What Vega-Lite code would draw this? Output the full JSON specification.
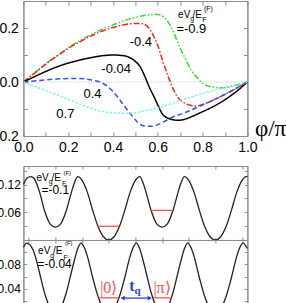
{
  "$schema": "https://vega.github.io/schema/vega-lite/v6.json",
  "autosize": {"type": "pad"},
  "padding": {"left": -10.6, "top": 0, "right": 0, "bottom": 0},
  "spacing": 30,
  "bounds": "flush",
  "config": {
    "view": {"stroke": "#8c8c8c", "strokeWidth": 1},
    "axis": {"grid": false, "domainColor": "#8c8c8c", "tickColor": "#8c8c8c", "labelFont": "Liberation Sans", "labelColor": "#000", "titleFont": "Liberation Serif", "labelFlush": false},
    "text": {"font": "Liberation Sans", "color": "#000"}
  },
  "datasets": {
    "topCurves": [
      {"s":"-0.9","p":0,"v":0},{"s":"-0.9","p":0.05,"v":0.034},{"s":"-0.9","p":0.1,"v":0.068},{"s":"-0.9","p":0.15,"v":0.098},{"s":"-0.9","p":0.2,"v":0.127},{"s":"-0.9","p":0.25,"v":0.152},{"s":"-0.9","p":0.3,"v":0.175},{"s":"-0.9","p":0.35,"v":0.195},{"s":"-0.9","p":0.4,"v":0.211},{"s":"-0.9","p":0.45,"v":0.227},{"s":"-0.9","p":0.5,"v":0.239},{"s":"-0.9","p":0.55,"v":0.248},{"s":"-0.9","p":0.6,"v":0.25},{"s":"-0.9","p":0.63,"v":0.238},{"s":"-0.9","p":0.66,"v":0.203},{"s":"-0.9","p":0.7,"v":0.125},{"s":"-0.9","p":0.73,"v":0.075},{"s":"-0.9","p":0.75,"v":0.043},{"s":"-0.9","p":0.78,"v":0.012},{"s":"-0.9","p":0.8,"v":-0.005},{"s":"-0.9","p":0.84,"v":-0.018},{"s":"-0.9","p":0.88,"v":-0.021},{"s":"-0.9","p":0.92,"v":-0.018},{"s":"-0.9","p":0.96,"v":-0.01},{"s":"-0.9","p":1,"v":0},
      {"s":"-0.4","p":0,"v":0},{"s":"-0.4","p":0.05,"v":0.033},{"s":"-0.4","p":0.1,"v":0.066},{"s":"-0.4","p":0.15,"v":0.096},{"s":"-0.4","p":0.2,"v":0.124},{"s":"-0.4","p":0.25,"v":0.148},{"s":"-0.4","p":0.3,"v":0.17},{"s":"-0.4","p":0.35,"v":0.188},{"s":"-0.4","p":0.4,"v":0.202},{"s":"-0.4","p":0.45,"v":0.212},{"s":"-0.4","p":0.5,"v":0.217},{"s":"-0.4","p":0.53,"v":0.216},{"s":"-0.4","p":0.56,"v":0.2},{"s":"-0.4","p":0.585,"v":0.164},{"s":"-0.4","p":0.6,"v":0.135},{"s":"-0.4","p":0.622,"v":0.078},{"s":"-0.4","p":0.64,"v":0.035},{"s":"-0.4","p":0.66,"v":-0.009},{"s":"-0.4","p":0.69,"v":-0.058},{"s":"-0.4","p":0.72,"v":-0.078},{"s":"-0.4","p":0.75,"v":-0.087},{"s":"-0.4","p":0.77,"v":-0.089},{"s":"-0.4","p":0.8,"v":-0.083},{"s":"-0.4","p":0.84,"v":-0.07},{"s":"-0.4","p":0.88,"v":-0.054},{"s":"-0.4","p":0.92,"v":-0.037},{"s":"-0.4","p":0.96,"v":-0.019},{"s":"-0.4","p":1,"v":0},
      {"s":"-0.04","p":0,"v":0},{"s":"-0.04","p":0.05,"v":0.02},{"s":"-0.04","p":0.1,"v":0.039},{"s":"-0.04","p":0.15,"v":0.056},{"s":"-0.04","p":0.2,"v":0.07},{"s":"-0.04","p":0.25,"v":0.081},{"s":"-0.04","p":0.3,"v":0.09},{"s":"-0.04","p":0.35,"v":0.097},{"s":"-0.04","p":0.4,"v":0.1},{"s":"-0.04","p":0.45,"v":0.097},{"s":"-0.04","p":0.48,"v":0.088},{"s":"-0.04","p":0.5,"v":0.076},{"s":"-0.04","p":0.52,"v":0.058},{"s":"-0.04","p":0.54,"v":0.025},{"s":"-0.04","p":0.56,"v":-0.015},{"s":"-0.04","p":0.585,"v":-0.058},{"s":"-0.04","p":0.6,"v":-0.085},{"s":"-0.04","p":0.622,"v":-0.12},{"s":"-0.04","p":0.64,"v":-0.132},{"s":"-0.04","p":0.66,"v":-0.138},{"s":"-0.04","p":0.69,"v":-0.142},{"s":"-0.04","p":0.72,"v":-0.138},{"s":"-0.04","p":0.76,"v":-0.125},{"s":"-0.04","p":0.8,"v":-0.11},{"s":"-0.04","p":0.84,"v":-0.094},{"s":"-0.04","p":0.88,"v":-0.076},{"s":"-0.04","p":0.92,"v":-0.054},{"s":"-0.04","p":0.96,"v":-0.029},{"s":"-0.04","p":1,"v":0},
      {"s":"0.4","p":0,"v":0},{"s":"0.4","p":0.05,"v":0.004},{"s":"0.4","p":0.1,"v":0.008},{"s":"0.4","p":0.15,"v":0.011},{"s":"0.4","p":0.2,"v":0.013},{"s":"0.4","p":0.25,"v":0.013},{"s":"0.4","p":0.3,"v":0.008},{"s":"0.4","p":0.35,"v":-0.003},{"s":"0.4","p":0.4,"v":-0.035},{"s":"0.4","p":0.423,"v":-0.058},{"s":"0.4","p":0.45,"v":-0.088},{"s":"0.4","p":0.467,"v":-0.107},{"s":"0.4","p":0.49,"v":-0.13},{"s":"0.4","p":0.512,"v":-0.151},{"s":"0.4","p":0.54,"v":-0.163},{"s":"0.4","p":0.57,"v":-0.164},{"s":"0.4","p":0.6,"v":-0.158},{"s":"0.4","p":0.63,"v":-0.146},{"s":"0.4","p":0.66,"v":-0.132},{"s":"0.4","p":0.7,"v":-0.12},{"s":"0.4","p":0.72,"v":-0.114},{"s":"0.4","p":0.76,"v":-0.1},{"s":"0.4","p":0.8,"v":-0.085},{"s":"0.4","p":0.84,"v":-0.07},{"s":"0.4","p":0.88,"v":-0.054},{"s":"0.4","p":0.92,"v":-0.037},{"s":"0.4","p":0.96,"v":-0.019},{"s":"0.4","p":1,"v":0},
      {"s":"0.7","p":0,"v":0},{"s":"0.7","p":0.05,"v":-0.016},{"s":"0.7","p":0.1,"v":-0.032},{"s":"0.7","p":0.15,"v":-0.048},{"s":"0.7","p":0.2,"v":-0.064},{"s":"0.7","p":0.25,"v":-0.081},{"s":"0.7","p":0.3,"v":-0.097},{"s":"0.7","p":0.35,"v":-0.108},{"s":"0.7","p":0.4,"v":-0.114},{"s":"0.7","p":0.45,"v":-0.116},{"s":"0.7","p":0.5,"v":-0.114},{"s":"0.7","p":0.54,"v":-0.107},{"s":"0.7","p":0.6,"v":-0.097},{"s":"0.7","p":0.65,"v":-0.083},{"s":"0.7","p":0.7,"v":-0.068},{"s":"0.7","p":0.76,"v":-0.053},{"s":"0.7","p":0.84,"v":-0.033},{"s":"0.7","p":0.92,"v":-0.016},{"s":"0.7","p":1,"v":0}
    ],
    "zero": [{"p":0,"v":0},{"p":1,"v":0}],
    "topMain": [{"p":0.6906,"v":0.2381,"t":"eV"},{"p":0.7545,"v":0.2381,"t":"/E"}],
    "topSub": [{"p":0.745,"v":0.226,"t":"g"},{"p":0.799,"v":0.224,"t":"F"}],
    "topSup": [{"p":0.806,"v":0.2648,"t":"(F)"}],
    "topBig": [{"p":0.683,"v":0.1826,"t":"=-0.9"},{"p":0.4746,"v":0.1333,"t":"-0.4"},{"p":0.348,"v":0.0344,"t":"-0.04"},{"p":0.268,"v":-0.058,"t":"0.4"},{"p":0.147,"v":-0.132,"t":"0.7"}],
    "midCurve": [
      {"u":-1.6,"v":0.12},{"u":-1.53,"v":0.134},{"u":-1.46,"v":0.137},{"u":-1.4,"v":0.133},{"u":-1.3,"v":0.105},{"u":-1.2,"v":0.062},{"u":-1.1,"v":0.035},{"u":-1.0,"v":0.028},{"u":-0.9,"v":0.035},{"u":-0.8,"v":0.062},{"u":-0.7,"v":0.103},{"u":-0.64,"v":0.125},{"u":-0.58,"v":0.137},{"u":-0.5,"v":0.129},{"u":-0.4,"v":0.103},{"u":-0.3,"v":0.064},{"u":-0.2,"v":0.029},{"u":-0.1,"v":0.007},{"u":0,"v":0},{"u":0.1,"v":0.007},{"u":0.2,"v":0.029},{"u":0.3,"v":0.064},{"u":0.4,"v":0.103},{"u":0.5,"v":0.129},{"u":0.58,"v":0.137},{"u":0.64,"v":0.125},{"u":0.7,"v":0.103},{"u":0.8,"v":0.062},{"u":0.9,"v":0.035},{"u":1.0,"v":0.028},{"u":1.1,"v":0.035},{"u":1.2,"v":0.062},{"u":1.3,"v":0.103},{"u":1.36,"v":0.125},{"u":1.42,"v":0.137},{"u":1.5,"v":0.129},{"u":1.6,"v":0.103},{"u":1.7,"v":0.064},{"u":1.8,"v":0.029},{"u":1.9,"v":0.007},{"u":2.0,"v":0},{"u":2.1,"v":0.007},{"u":2.2,"v":0.029},{"u":2.3,"v":0.064},{"u":2.4,"v":0.103},{"u":2.5,"v":0.129},{"u":2.58,"v":0.137},{"u":2.6,"v":0.137}
    ],
    "midLevels": [{"g":"a","u":-0.21,"v":0.0296},{"g":"a","u":0.2,"v":0.0296},{"g":"b","u":0.79,"v":0.064},{"g":"b","u":1.2,"v":0.064}],
    "midMain": [{"u":-1.356,"v":0.1276,"t":"eV"},{"u":-1.074,"v":0.1276,"t":"/E"}],
    "midSub": [{"u":-1.127,"v":0.12,"t":"g"},{"u":-0.8775,"v":0.1168,"t":"F"}],
    "midSup": [{"u":-0.849,"v":0.1405,"t":"(F)"}],
    "midBig": [{"u":-1.262,"v":0.0995,"t":"=-0.1"}],
    "botCurve": [
      {"u":-1.6,"v":0.108},{"u":-1.54,"v":0.115},{"u":-1.48,"v":0.112},{"u":-1.42,"v":0.104},{"u":-1.36,"v":0.088},{"u":-1.3,"v":0.067},{"u":-1.2,"v":0.032},{"u":-1.1,"v":0.009},{"u":-1.0,"v":0.002},{"u":-0.9,"v":0.009},{"u":-0.8,"v":0.032},{"u":-0.7,"v":0.067},{"u":-0.64,"v":0.088},{"u":-0.58,"v":0.106},{"u":-0.52,"v":0.115},{"u":-0.46,"v":0.108},{"u":-0.4,"v":0.093},{"u":-0.3,"v":0.058},{"u":-0.2,"v":0.027},{"u":-0.1,"v":0.007},{"u":0,"v":0},{"u":0.1,"v":0.007},{"u":0.2,"v":0.027},{"u":0.3,"v":0.058},{"u":0.4,"v":0.093},{"u":0.46,"v":0.108},{"u":0.52,"v":0.115},{"u":0.58,"v":0.106},{"u":0.64,"v":0.088},{"u":0.7,"v":0.067},{"u":0.8,"v":0.032},{"u":0.9,"v":0.009},{"u":1.0,"v":0.002},{"u":1.1,"v":0.009},{"u":1.2,"v":0.032},{"u":1.3,"v":0.067},{"u":1.36,"v":0.088},{"u":1.42,"v":0.106},{"u":1.48,"v":0.115},{"u":1.54,"v":0.108},{"u":1.6,"v":0.093},{"u":1.7,"v":0.058},{"u":1.8,"v":0.027},{"u":1.9,"v":0.007},{"u":2.0,"v":0},{"u":2.1,"v":0.007},{"u":2.2,"v":0.027},{"u":2.3,"v":0.058},{"u":2.4,"v":0.093},{"u":2.46,"v":0.108},{"u":2.52,"v":0.115},{"u":2.6,"v":0.106}
    ],
    "botLevels": [{"g":"a","u":-0.2,"v":0.025},{"g":"a","u":0.18,"v":0.025},{"g":"b","u":0.83,"v":0.025},{"g":"b","u":1.18,"v":0.025}],
    "botArrow": [{"u":0.24,"u2":0.79,"v":0.0245}],
    "botHeads": [{"u":0.262,"v":0.0245,"d":"l"},{"u":0.768,"v":0.0245,"d":"r"}],
    "botKets": [{"u":0.0,"v":0.0334,"t":"|0⟩"},{"u":1.0,"v":0.0334,"t":"|π⟩"}],
    "botT": [{"u":0.435,"v":0.0362,"t":"t"}],
    "botQ": [{"u":0.538,"v":0.031,"t":"q"}],
    "botMain": [{"u":-1.324,"v":0.0965,"t":"eV"},{"u":-1.046,"v":0.0965,"t":"/E"}],
    "botSub": [{"u":-1.095,"v":0.0904,"t":"g"},{"u":-0.849,"v":0.0863,"t":"F"}],
    "botSup": [{"u":-0.821,"v":0.1118,"t":"(F)"}],
    "botBig": [{"u":-1.337,"v":0.0745,"t":"=-0.04"}],
    "dummyTop": [{"p":0.5,"v":0}],
    "dummyMid": [{"u":0.5,"v":0.05}]
  },
  "vconcat": [
    {
      "width": 224,
      "height": 135,
      "resolve": {"axis": {"x": "independent", "y": "independent"}},
      "layer": [
        {
          "encoding": {
            "x": {"field": "p", "type": "quantitative", "scale": {"domain": [0, 1], "nice": false, "zero": false},
              "axis": {"values": [0,0.1,0.2,0.3,0.4,0.5,0.6,0.7,0.8,0.9,1], "labelExpr": "round(datum.value*10)%2==0 ? format(datum.value,'.1f') : ''", "tickSize": -4, "labelPadding": 8, "labelFontSize": 14, "title": "φ/π", "titleFontSize": 23, "titleFontWeight": "normal", "titleX": 231, "titleY": -1, "titleAlign": "left", "titleBaseline": "alphabetic", "titleAnchor": "start"}},
            "y": {"field": "v", "type": "quantitative", "scale": {"domain": [-0.2, 0.3], "nice": false, "zero": false},
              "axis": {"values": [-0.2,-0.1,0,0.1,0.2,0.3], "labelExpr": "round(datum.value*10)%2==0 ? format(datum.value,'.1f') : ''", "tickSize": -4, "labelPadding": 9, "labelFontSize": 14, "title": null}}
          },
          "layer": [
            {"data": {"name": "zero"}, "mark": {"type": "line", "color": "#b0b0b0", "strokeWidth": 0.8, "strokeDash": [1, 1.5]}},
            {"data": {"name": "topCurves"}, "mark": {"type": "line", "strokeWidth": 1.5, "interpolate": "monotone"},
              "encoding": {
                "color": {"field": "s", "type": "nominal", "scale": {"domain": ["-0.9","-0.4","-0.04","0.4","0.7"], "range": ["#2ee02e","#ff2020","#000000","#2f55ee","#66f5f0"]}, "legend": null},
                "strokeDash": {"field": "s", "type": "nominal", "scale": {"domain": ["-0.9","-0.4","-0.04","0.4","0.7"], "range": [[6,2,1.5,2,1.5,2],[6,2,1.5,2],[1,0],[5,3],[2,2]]}, "legend": null}
              }},
            {"data": {"name": "topMain"}, "mark": {"type": "text", "align": "left", "baseline": "alphabetic", "fontSize": 10}, "encoding": {"text": {"field": "t"}}},
            {"data": {"name": "topSub"}, "mark": {"type": "text", "align": "left", "baseline": "alphabetic", "fontSize": 7}, "encoding": {"text": {"field": "t"}}},
            {"data": {"name": "topSup"}, "mark": {"type": "text", "align": "left", "baseline": "alphabetic", "fontSize": 7}, "encoding": {"text": {"field": "t"}}},
            {"data": {"name": "topBig"}, "mark": {"type": "text", "align": "left", "baseline": "alphabetic", "fontSize": 13}, "encoding": {"text": {"field": "t"}}}
          ]
        },
        {
          "data": {"name": "dummyTop"},
          "mark": {"type": "point", "opacity": 0},
          "encoding": {
            "x": {"field": "p", "type": "quantitative", "scale": {"domain": [0, 1], "nice": false, "zero": false}, "axis": {"orient": "top", "values": [0,0.1,0.2,0.3,0.4,0.5,0.6,0.7,0.8,0.9,1], "labels": false, "tickSize": -4, "title": null}},
            "y": {"field": "v", "type": "quantitative", "scale": {"domain": [-0.2, 0.3], "nice": false, "zero": false}, "axis": {"orient": "right", "values": [-0.2,-0.1,0,0.1,0.2,0.3], "labels": false, "tickSize": -4, "title": null}}
          }
        }
      ]
    },
    {
      "spacing": 0,
      "bounds": "flush",
      "vconcat": [
        {
          "width": 224,
          "height": 74,
          "resolve": {"axis": {"x": "independent", "y": "independent"}},
          "layer": [
            {
              "encoding": {
                "x": {"field": "u", "type": "quantitative", "scale": {"domain": [-1.6, 2.6], "nice": false, "zero": false},
                  "axis": {"values": [-1.5,-1,-0.5,0,0.5,1,1.5,2,2.5], "labels": false, "tickSize": -3, "title": null}},
                "y": {"field": "v", "type": "quantitative", "scale": {"domain": [0, 0.16], "nice": false, "zero": false},
                  "axis": {"values": [0.03,0.06,0.09,0.12,0.15], "labelExpr": "round(datum.value*100)%6==0 ? format(datum.value,'.2f') : ''", "tickSize": -3, "labelPadding": 6, "labelFontSize": 12, "title": null}}
              },
              "layer": [
                {"data": {"name": "midCurve"}, "mark": {"type": "line", "color": "#222", "strokeWidth": 1.3, "interpolate": "monotone"}},
                {"data": {"name": "midLevels"}, "mark": {"type": "line", "color": "#ff5050", "strokeWidth": 1.3}, "encoding": {"detail": {"field": "g"}}},
                {"data": {"name": "midMain"}, "mark": {"type": "text", "align": "left", "baseline": "alphabetic", "fontSize": 10}, "encoding": {"text": {"field": "t"}}},
                {"data": {"name": "midSub"}, "mark": {"type": "text", "align": "left", "baseline": "alphabetic", "fontSize": 7}, "encoding": {"text": {"field": "t"}}},
                {"data": {"name": "midSup"}, "mark": {"type": "text", "align": "left", "baseline": "alphabetic", "fontSize": 6}, "encoding": {"text": {"field": "t"}}},
                {"data": {"name": "midBig"}, "mark": {"type": "text", "align": "left", "baseline": "alphabetic", "fontSize": 12}, "encoding": {"text": {"field": "t"}}}
              ]
            },
            {
              "data": {"name": "dummyMid"},
              "mark": {"type": "point", "opacity": 0},
              "encoding": {
                "x": {"field": "u", "type": "quantitative", "scale": {"domain": [-1.6, 2.6], "nice": false, "zero": false}, "axis": {"orient": "top", "values": [-1.5,-1,-0.5,0,0.5,1,1.5,2,2.5], "labels": false, "tickSize": -3, "title": null}},
                "y": {"field": "v", "type": "quantitative", "scale": {"domain": [0, 0.16], "nice": false, "zero": false}, "axis": {"orient": "right", "values": [0.03,0.06,0.09,0.12,0.15], "labels": false, "tickSize": -3, "title": null}}
              }
            }
          ]
        },
        {
          "width": 224,
          "height": 73,
          "resolve": {"axis": {"x": "independent", "y": "independent"}},
          "layer": [
            {
              "encoding": {
                "x": {"field": "u", "type": "quantitative", "scale": {"domain": [-1.6, 2.6], "nice": false, "zero": false},
                  "axis": {"values": [-1.5,-1,-0.5,0,0.5,1,1.5,2,2.5], "labels": false, "tickSize": -3, "title": "φ/π", "titleFontSize": 23, "titleFontWeight": "normal", "titleX": 231, "titleY": 6, "titleAlign": "left", "titleBaseline": "alphabetic", "titleAnchor": "start"}},
                "y": {"field": "v", "type": "quantitative", "scale": {"domain": [0, 0.12], "nice": false, "zero": false},
                  "axis": {"values": [0.02,0.04,0.06,0.08,0.1,0.12], "labelExpr": "(round(datum.value*100)%4==0 && datum.value<0.11) ? format(datum.value,'.2f') : ''", "tickSize": -3, "labelPadding": 6, "labelFontSize": 12, "title": null}}
              },
              "layer": [
                {"data": {"name": "botCurve"}, "mark": {"type": "line", "color": "#222", "strokeWidth": 1.3, "interpolate": "monotone"}},
                {"data": {"name": "botLevels"}, "mark": {"type": "line", "color": "#ff5050", "strokeWidth": 1.3}, "encoding": {"detail": {"field": "g"}}},
                {"data": {"name": "botArrow"}, "mark": {"type": "rule", "color": "#1f3cff", "strokeWidth": 1.3}, "encoding": {"x2": {"field": "u2"}}},
                {"data": {"name": "botHeads"}, "mark": {"type": "point", "filled": true, "size": 22, "color": "#1f3cff", "opacity": 1},
                  "encoding": {"shape": {"field": "d", "type": "nominal", "scale": {"domain": ["l","r"], "range": ["triangle-left","triangle-right"]}, "legend": null}}},
                {"data": {"name": "botKets"}, "mark": {"type": "text", "align": "center", "baseline": "alphabetic", "fontSize": 16, "font": "Liberation Serif", "color": "#ff4d4d"}, "encoding": {"text": {"field": "t"}}},
                {"data": {"name": "botT"}, "mark": {"type": "text", "align": "center", "baseline": "alphabetic", "fontSize": 16, "font": "Liberation Serif", "fontWeight": "bold", "color": "#1f3cff"}, "encoding": {"text": {"field": "t"}}},
                {"data": {"name": "botQ"}, "mark": {"type": "text", "align": "center", "baseline": "alphabetic", "fontSize": 11, "font": "Liberation Serif", "fontWeight": "bold", "color": "#1f3cff"}, "encoding": {"text": {"field": "t"}}},
                {"data": {"name": "botMain"}, "mark": {"type": "text", "align": "left", "baseline": "alphabetic", "fontSize": 10}, "encoding": {"text": {"field": "t"}}},
                {"data": {"name": "botSub"}, "mark": {"type": "text", "align": "left", "baseline": "alphabetic", "fontSize": 7}, "encoding": {"text": {"field": "t"}}},
                {"data": {"name": "botSup"}, "mark": {"type": "text", "align": "left", "baseline": "alphabetic", "fontSize": 6}, "encoding": {"text": {"field": "t"}}},
                {"data": {"name": "botBig"}, "mark": {"type": "text", "align": "left", "baseline": "alphabetic", "fontSize": 12}, "encoding": {"text": {"field": "t"}}}
              ]
            },
            {
              "data": {"name": "dummyMid"},
              "mark": {"type": "point", "opacity": 0},
              "encoding": {
                "x": {"field": "u", "type": "quantitative", "scale": {"domain": [-1.6, 2.6], "nice": false, "zero": false}, "axis": {"orient": "top", "values": [-1.5,-1,-0.5,0,0.5,1,1.5,2,2.5], "labels": false, "tickSize": -3, "title": null}},
                "y": {"field": "v", "type": "quantitative", "scale": {"domain": [0, 0.12], "nice": false, "zero": false}, "axis": {"orient": "right", "values": [0.02,0.04,0.06,0.08,0.1,0.12], "labels": false, "tickSize": -3, "title": null}}
              }
            }
          ]
        }
      ]
    }
  ]
}
